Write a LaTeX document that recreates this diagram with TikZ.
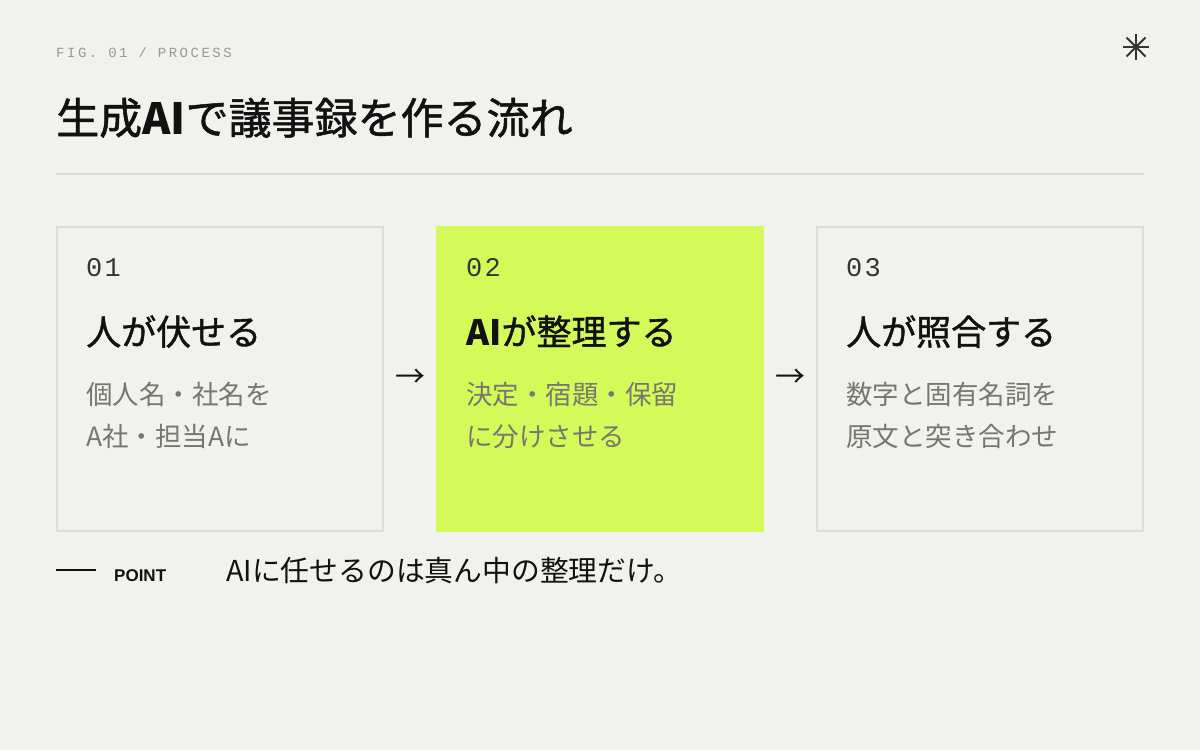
\documentclass[tikz,border=0pt]{standalone}
\usepackage{fontspec}
\setmainfont{Noto Sans CJK JP}
\newfontfamily\jp{Noto Sans CJK JP}
\newfontfamily\jpm[FakeBold=1.2]{Noto Sans CJK JP}
\newfontfamily\figmono[LetterSpace=18]{Liberation Mono}
\newfontfamily\nummono[LetterSpace=8]{Liberation Mono}
\newfontfamily\ptsans{Liberation Sans}
\definecolor{bg}{HTML}{F1F1ED}
\definecolor{rulegray}{HTML}{DEDED9}
\definecolor{lime}{HTML}{D4FA5A}
\definecolor{ink}{HTML}{111111}
\definecolor{subgray}{HTML}{77776F}
\definecolor{figgray}{HTML}{9A9A95}
\tikzset{
  stepbox/.style={rectangle, inner sep=0pt, minimum width=326pt, minimum height=304pt},
  plainbox/.style={stepbox, draw=rulegray, line width=2pt},
  limebox/.style={stepbox, fill=lime, minimum width=328pt, minimum height=306pt},
  numtxt/.style={anchor=base west, inner sep=0pt, text=ink!85, font=\fontsize{27}{30}\selectfont\nummono},
  ttltxt/.style={anchor=base west, inner sep=0pt, text=ink, font=\fontsize{35}{40}\selectfont\jpm},
  subtxt/.style={anchor=base west, inner sep=0pt, text=subgray, align=left, font=\fontsize{26.5}{42}\selectfont\jp},
  arrtxt/.style={inner sep=0pt, text=ink, font=\fontsize{30}{30}\selectfont\jp}
}
\begin{document}
\begin{tikzpicture}[x=1pt,y=-1pt]
\path[fill=bg] (0,0) rectangle (1200,750);
\useasboundingbox (0,0) rectangle (1200,750);
% header
\node[anchor=base west, inner sep=0pt, text=figgray, font=\fontsize{14}{16}\selectfont\figmono] (fig) at (56,57) {FIG. 01 / PROCESS};
\node[anchor=base west, inner sep=0pt, text=ink, font=\fontsize{43}{48}\selectfont\jpm] (title) at (56,134) {生成{\jp\bfseries AI}で議事録を作る流れ};
\coordinate (rl) at (56,174);
\coordinate (rr) at (1144,174);
\draw[rulegray, line width=2pt] (rl) -- (rr);
% asterisk
\coordinate (ast) at (1136,47);
\begin{scope}[draw=ink!85, line width=2pt]
\draw ([xshift=-13pt]ast) -- ([xshift=13pt]ast);
\draw ([yshift=-13pt]ast) -- ([yshift=13pt]ast);
\draw ([shift={(-9.5pt,-9.5pt)}]ast) -- ([shift={(9.5pt,9.5pt)}]ast);
\draw ([shift={(-9.5pt,9.5pt)}]ast) -- ([shift={(9.5pt,-9.5pt)}]ast);
\end{scope}
% boxes
\node[plainbox] (b1) at (220,379) {};
\node[limebox] (b2) at (600,379) {};
\node[plainbox] (b3) at (980,379) {};
% box 1
\node[numtxt] (n1) at (86,276) {01};
\node[ttltxt] (t1) at (86,345) {人が伏せる};
\node[subtxt] (s1) at (86,446) {個人名・社名を\\A社・担当Aに};
% box 2
\node[numtxt] (n2) at (466,276) {02};
\node[ttltxt] (t2) at (466,345) {{\jp\bfseries AI}が整理する};
\node[subtxt] (s2) at (466,446) {決定・宿題・保留\\に分けさせる};
% box 3
\node[numtxt] (n3) at (846,276) {03};
\node[ttltxt] (t3) at (846,345) {人が照合する};
\node[subtxt] (s3) at (846,446) {数字と固有名詞を\\原文と突き合わせ};
% arrows
\node[arrtxt] (a1) at (410,378) {→};
\node[arrtxt] (a2) at (790,378) {→};
% point
\coordinate (pl) at (56,570);
\coordinate (pr) at (96,570);
\draw[ink, line width=2pt] (pl) -- (pr);
\node[anchor=base west, inner sep=0pt, text=ink, font=\fontsize{17}{20}\selectfont\ptsans\bfseries] (pt) at (114,581) {POINT};
\node[anchor=base west, inner sep=0pt, text=ink, font=\fontsize{28.8}{30}\selectfont\jp] (pmsg) at (226,581) {AIに任せるのは真ん中の整理だけ。};
\end{tikzpicture}
\end{document}
